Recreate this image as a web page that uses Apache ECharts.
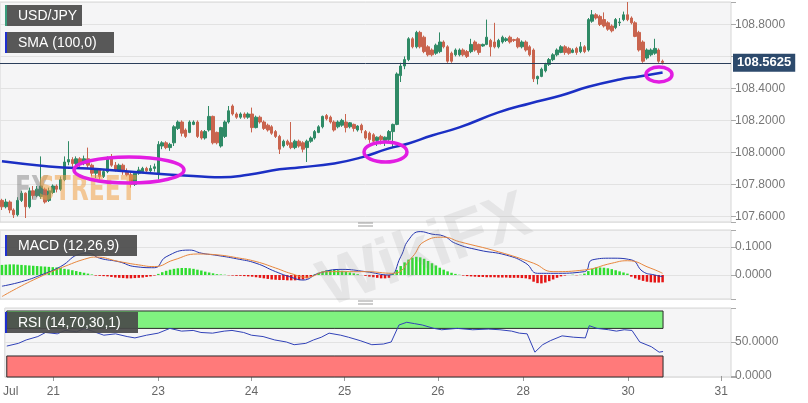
<!DOCTYPE html>
<html>
<head>
<meta charset="utf-8">
<title>USD/JPY hourly</title>
<script src="https://cdn.jsdelivr.net/npm/echarts@6/dist/echarts.min.js"></script>
<style>
  html, body { margin: 0; padding: 0; background: #fff; }
  #chart { width: 808px; height: 403px; }
</style>
</head>
<body>
<div id="chart"></div>
<script>
// hourly candles: [open, close, low, high]
const candles = [
  [107.70,107.66,107.64,107.71],[107.66,107.69,107.65,107.71],[107.69,107.64,107.62,107.70],[107.64,107.61,107.59,107.65],
  [107.61,107.70,107.60,107.72],[107.70,107.745,107.69,107.76],[107.745,107.66,107.59,107.75],[107.66,107.76,107.65,107.78],
  [107.76,107.73,107.71,107.79],[107.73,107.77,107.72,107.79],[107.725,107.79,107.71,107.975],[107.77,107.69,107.68,107.78],
  [107.70,107.76,107.69,107.78],[107.75,107.79,107.74,107.80],[107.79,107.77,107.75,107.80],[107.77,107.83,107.76,107.85],
  [107.83,107.94,107.82,107.975],[107.94,107.955,107.92,108.07],[107.955,107.93,107.91,107.97],[107.93,107.96,107.92,107.975],
  [107.96,107.93,107.91,107.97],[107.93,107.96,107.92,107.98],[107.96,107.92,107.90,108.03],[107.92,107.87,107.85,107.93],
  [107.87,107.89,107.84,107.90],[107.89,107.85,107.83,107.90],[107.85,107.88,107.84,107.89],[107.88,107.96,107.87,107.975],
  [107.96,107.92,107.91,107.99],[107.92,107.89,107.88,107.94],[107.89,107.92,107.88,107.93],[107.92,107.88,107.86,107.93],
  [107.88,107.86,107.85,107.90],[107.86,107.80,107.78,107.88],[107.80,107.87,107.79,107.88],[107.87,107.89,107.86,107.91],
  [107.88,107.90,107.87,107.91],[107.90,107.885,107.87,107.91],[107.885,107.90,107.875,107.92],[107.90,107.91,107.88,107.93],
  [107.87,108.05,107.83,108.07],[108.04,108.06,108.02,108.07],[108.06,108.03,108.02,108.07],[108.03,108.05,108.01,108.06],
  [108.06,108.16,108.04,108.17],[108.15,108.19,108.14,108.20],[108.19,108.12,108.10,108.20],[108.14,108.10,108.09,108.15],
  [108.125,108.19,108.12,108.20],[108.175,108.19,108.17,108.20],[108.19,108.10,108.09,108.20],[108.13,108.09,108.08,108.14],
  [108.09,108.13,108.08,108.14],[108.14,108.225,108.13,108.29],[108.225,108.06,108.05,108.23],[108.125,108.06,108.05,108.13],
  [108.04,108.155,108.03,108.16],[108.10,108.19,108.09,108.20],[108.19,108.26,108.18,108.29],[108.29,108.24,108.23,108.30],
  [108.24,108.22,108.21,108.25],[108.22,108.24,108.21,108.25],[108.24,108.22,108.21,108.25],[108.22,108.24,108.21,108.25],
  [108.24,108.155,108.125,108.28],[108.155,108.22,108.15,108.23],[108.22,108.19,108.18,108.23],[108.19,108.15,108.14,108.20],
  [108.17,108.14,108.13,108.18],[108.16,108.12,108.11,108.17],[108.13,108.10,108.09,108.14],[108.10,108.02,107.99,108.11],
  [108.04,108.07,108.03,108.08],[108.07,108.05,108.04,108.08],[108.06,108.03,108.02,108.19],[108.03,108.07,108.02,108.08],
  [108.07,108.04,108.03,108.08],[108.06,108.02,108.00,108.07],[108.03,108.07,107.94,108.08],[108.07,108.09,108.06,108.10],
  [108.09,108.13,108.08,108.14],[108.125,108.16,108.12,108.17],[108.16,108.225,108.15,108.23],[108.23,108.21,108.20,108.24],
  [108.22,108.19,108.18,108.23],[108.19,108.14,108.13,108.20],[108.16,108.19,108.15,108.20],[108.17,108.20,108.16,108.21],
  [108.19,108.155,108.125,108.24],[108.16,108.185,108.15,108.19],[108.175,108.15,108.13,108.18],[108.14,108.165,108.13,108.17],
  [108.17,108.14,108.12,108.18],[108.13,108.09,108.08,108.14],[108.12,108.08,108.06,108.13],[108.11,108.07,108.05,108.12],
  [108.075,108.095,108.04,108.10],[108.10,108.08,108.05,108.11],[108.075,108.095,108.04,108.10],[108.08,108.13,108.07,108.14],
  [108.13,108.175,108.03,108.18],[108.175,108.49,108.17,108.50],[108.48,108.54,108.44,108.56],[108.54,108.58,108.52,108.60],
  [108.58,108.71,108.57,108.72],[108.71,108.66,108.65,108.72],[108.66,108.75,108.65,108.76],[108.75,108.66,108.65,108.76],
  [108.72,108.63,108.62,108.73],[108.66,108.61,108.60,108.67],[108.64,108.61,108.60,108.65],[108.62,108.67,108.61,108.68],
  [108.63,108.69,108.62,108.75],[108.69,108.66,108.65,108.70],[108.66,108.57,108.56,108.67],[108.62,108.57,108.56,108.63],
  [108.61,108.64,108.60,108.65],[108.61,108.64,108.60,108.65],[108.64,108.61,108.60,108.65],[108.63,108.60,108.59,108.64],
  [108.63,108.675,108.62,108.71],[108.69,108.64,108.63,108.70],[108.675,108.625,108.61,108.68],[108.665,108.675,108.66,108.68],
  [108.675,108.72,108.67,108.83],[108.70,108.66,108.60,108.71],[108.69,108.66,108.65,108.81],[108.66,108.70,108.65,108.71],
  [108.69,108.72,108.68,108.73],[108.70,108.71,108.69,108.72],[108.72,108.69,108.68,108.73],[108.705,108.70,108.69,108.71],
  [108.71,108.66,108.65,108.72],[108.66,108.69,108.65,108.70],[108.69,108.64,108.63,108.70],[108.66,108.61,108.60,108.67],
  [108.64,108.46,108.44,108.65],[108.46,108.475,108.425,108.48],[108.475,108.52,108.47,108.53],[108.51,108.55,108.50,108.56],
  [108.55,108.58,108.54,108.59],[108.58,108.61,108.57,108.62],[108.61,108.64,108.60,108.65],[108.625,108.66,108.62,108.67],
  [108.66,108.625,108.61,108.67],[108.65,108.62,108.61,108.66],[108.625,108.64,108.62,108.65],[108.65,108.625,108.61,108.66],
  [108.63,108.66,108.62,108.69],[108.66,108.63,108.62,108.67],[108.64,108.83,108.63,108.84],[108.82,108.86,108.81,108.89],
  [108.86,108.84,108.83,108.87],[108.85,108.80,108.79,108.86],[108.83,108.79,108.78,108.875],[108.81,108.77,108.76,108.82],
  [108.79,108.76,108.75,108.80],[108.78,108.83,108.77,108.84],[108.81,108.815,108.79,108.84],[108.83,108.86,108.82,108.88],
  [108.86,108.83,108.82,108.94],[108.84,108.81,108.80,108.85],[108.81,108.725,108.72,108.82],[108.75,108.64,108.63,108.76],
  [108.69,108.57,108.56,108.70],[108.59,108.64,108.58,108.65],[108.61,108.64,108.60,108.65],[108.62,108.65,108.61,108.71],
  [108.64,108.57,108.56,108.65],[108.57,108.5625,108.55,108.58]
];
const lastPrice = 108.5625;

// SMA(100) read at a few candles
const smaIdx = [0,12,25,38,51,56,63,71,76,85,92,99,104,110,117,127,135,143,150,158,163,169];
const smaVal = [107.944,107.9125,107.894,107.869,107.85,107.844,107.86,107.894,107.906,107.931,107.969,
  108.025,108.056,108.106,108.156,108.25,108.306,108.356,108.41,108.456,108.475,108.50];

// MACD (12,26,9)
const macdIdx = [0,5,10,15,20,22,25,30,34,39,42,48,51,55,60,65,70,74,77,81,87,93,99,102,104,107,110,113,116,122,
  129,134,137,141,149,151,156,161,164,167,169];
const macdVal = [-0.04,-0.024,0.0,0.03,0.075,0.078,0.06,0.047,0.03,0.026,0.065,0.089,0.078,0.07,0.058,0.042,0.012,
  -0.008,-0.018,0.006,0.02,0.012,0.0,0.065,0.125,0.155,0.146,0.139,0.113,0.089,0.071,0.042,0.006,0.006,0.012,0.054,
  0.06,0.054,0.012,0.0,-0.006];
const signalIdx = [0,8,17,22,24,30,35,39,44,50,55,60,65,70,74,78,83,93,100,105,108,113,117,127,136,141,149,156,160,166,169];
const signalVal = [-0.077,-0.018,0.036,0.06,0.064,0.048,0.036,0.03,0.054,0.075,0.072,0.062,0.048,0.025,0.005,-0.008,
  0.012,0.012,0.006,0.065,0.119,0.135,0.119,0.083,0.042,0.012,0.018,0.042,0.051,0.024,0.006];
const histogram = [
  0.036,0.037,0.038,0.038,0.037,0.036,0.035,0.034, 0.033,0.032,0.031,0.030,0.029,0.028,0.027,0.025,
  0.022,0.020,0.017,0.014,0.011,0.008,0.005,0.002, -0.002,-0.003,-0.004,-0.005,-0.007,-0.009,-0.010,-0.011,
  -0.012,-0.012,-0.011,-0.010,-0.009,-0.007,-0.005,-0.002, 0.004,0.010,0.015,0.019,0.022,0.024,0.025,0.025,
  0.024,0.022,0.019,0.016,0.012,0.009,0.006,0.003, 0.002,0.001,-0.001,-0.002,-0.003,-0.003,-0.004,-0.005,
  -0.006,-0.008,-0.010,-0.012,-0.014,-0.016,-0.017,-0.018, -0.018,-0.019,-0.019,-0.019,-0.018,-0.016,-0.012,-0.006,
  0.002,0.008,0.013,0.017,0.018,0.018,0.017,0.015, 0.012,0.009,0.006,0.003,0.000,-0.003,-0.006,-0.008,
  -0.010,-0.012,-0.012,-0.010,0.004, 0.018,0.032,0.045,0.055,0.062,0.065,0.063,0.058,
  0.050,0.042,0.034,0.026,0.019,0.013,0.008,0.004, 0.001,-0.002,-0.004,-0.005,-0.006,-0.007,-0.007,-0.008,
  -0.008,-0.008,-0.009,-0.009,-0.009,-0.010,-0.010,-0.010,
  -0.011,-0.012,-0.015,-0.024,-0.029,-0.030,-0.027,-0.022,-0.016,-0.010,-0.005,
  -0.002,0.000,0.001,-0.001,0.001,
  0.005,0.014,0.022,0.027,0.027,0.026,0.024,0.021,0.017,0.013,0.009,0.005,
  -0.006,-0.012,-0.017,-0.021,-0.024,-0.026,-0.027,-0.027,-0.026
];

// RSI (14)
const rsiIdx = [0,3,5,8,10,13,15,18,20,23,25,28,31,33,36,39,42,45,48,50,53,56,58,61,63,66,69,72,74,77,79,81,83,86,88,
  91,94,97,99,101,103,105,107,110,112,116,120,124,127,130,132,134,136,138,140,143,146,149,150,152,155,157,159,161,163,
  166,168,169];
const rsiVal = [44,48,53,58,64,62,67,65,70,64,60,62,58,56,60,63,70,66,67,64,63,66,67,64,60,58,53,50,46,48,53,57,63,60,57,
  52,46,47,50,75,79,77,75,70,68,70,68,69,68,66,63,62,35,46,52,59,57,56,74,70,68,66,68,67,50,43,35,36];

// x axis: one slot per hour, day labels at the first hour of each day
const slotCount = 187;
const dayLabels = ['Jul', '21', '23', '24', '25', '26', '28', '30', '31'];
const daySlots = [1, 12, 39, 63, 87, 111, 133, 160, 184];

const slots = [];
for (let i = 0; i < slotCount; i++) slots.push(String(i));
const dayAt = {};
daySlots.forEach((s, k) => { dayAt[s] = dayLabels[k]; });

function sparse(idx, vals) {
  const out = candles.map(() => null);
  idx.forEach((i, k) => { out[i] = vals[k]; });
  return out;
}
const onStep = (v, step) => Math.abs(v / step - Math.round(v / step)) < 1e-6;

const FONT = '"Liberation Sans", Arial, sans-serif';
const bull = '#2f8a66';
const bear = '#c9644e';

const panel = { show: true, backgroundColor: '#f5f5f6', borderColor: '#d6d6d6', borderWidth: 1, left: -1, right: 77 };
const yBase = {
  type: 'value', position: 'right',
  axisLine: { show: false },
  axisTick: { show: true, length: 5, lineStyle: { color: '#aaa' } },
  axisLabel: { color: '#777', fontSize: 12, margin: 4, fontFamily: FONT },
  splitLine: { lineStyle: { color: '#e2e2e2' } }
};
const xBase = {
  type: 'category', data: slots, boundaryGap: true,
  axisLine: { show: false }, axisTick: { show: false }, axisLabel: { show: false }, splitLine: { show: false }
};

// overlay pieces sit above the series
const TOP = 200;
function tag(x, y, w, text, strip) {
  return {
    type: 'group', x: x, y: y,
    children: [
      { type: 'rect', z: TOP, shape: { x: 0, y: 0, width: w, height: 21 }, style: { fill: 'rgba(74,74,74,0.92)' } },
      { type: 'rect', z: TOP + 1, shape: { x: 0, y: 0, width: 2, height: 21 }, style: { fill: strip } },
      { type: 'text', z: TOP + 2, x: 13, y: 11, style: { text: text, fill: '#fff', font: '14px ' + FONT, verticalAlign: 'middle' } }
    ]
  };
}
function ring(cx, cy, rx, ry) {
  return { type: 'ellipse', z: TOP, shape: { cx, cy, rx, ry }, style: { fill: 'none', stroke: '#e21de2', lineWidth: 3.5 } };
}
function handle(y) {
  return {
    type: 'group', x: 358, y: y,
    children: [0, 3].map(d => ({ type: 'line', z: TOP, shape: { x1: 0, y1: d, x2: 15, y2: d }, style: { stroke: '#999', lineWidth: 1 } }))
  };
}

const chart = echarts.init(document.getElementById('chart'), null, { renderer: 'canvas' });
chart.setOption({
  animation: false,
  backgroundColor: '#fff',
  textStyle: { fontFamily: FONT },
  grid: [
    Object.assign({ top: 2, height: 220 }, panel),
    Object.assign({ top: 230, height: 69 }, panel),
    Object.assign({ top: 308, height: 69 }, panel)
  ],
  xAxis: [
    Object.assign({ gridIndex: 0 }, xBase),
    Object.assign({ gridIndex: 1 }, xBase),
    Object.assign({}, xBase, {
      gridIndex: 2,
      axisTick: { show: true, alignWithLabel: true, length: 5, interval: i => (i in dayAt) && i !== 1, lineStyle: { color: '#999' } },
      axisLabel: { show: true, color: '#666', fontSize: 12, margin: 9, fontFamily: FONT,
        interval: i => i in dayAt, formatter: (v, i) => dayAt[i] || '' }
    })
  ],
  yAxis: [
    Object.assign({}, yBase, { gridIndex: 0, min: 107.565, max: 108.94, splitNumber: 7,
      axisLabel: Object.assign({}, yBase.axisLabel, {
        formatter: v => (onStep(v, 0.2) && Math.abs(v - 108.6) > 1e-6) ? v.toFixed(4) : '' }) }),
    Object.assign({}, yBase, { gridIndex: 1, min: -0.0857, max: 0.1607, splitNumber: 2,
      axisLabel: Object.assign({}, yBase.axisLabel, {
        formatter: v => onStep(v, 0.1) ? (Math.round(v * 10) / 10 + 0).toFixed(4) : '' }) }),
    Object.assign({}, yBase, { gridIndex: 2, min: -1.5, max: 100, splitNumber: 2,
      axisLabel: Object.assign({}, yBase.axisLabel, {
        formatter: v => (onStep(v, 50) && v < 99) ? (Math.round(v) + 0).toFixed(4) : '' }) })
  ],
  series: [
    {
      name: 'USD/JPY', type: 'candlestick', xAxisIndex: 0, yAxisIndex: 0,
      data: candles, barWidth: 3,
      itemStyle: { color: bull, color0: bear, borderColor: bull, borderColor0: bear, borderWidth: 1 },
      markLine: {
        silent: true, symbol: ['none', 'none'],
        lineStyle: { color: '#2b3e5b', type: 'solid', width: 1 },
        label: { position: 'end', distance: 2, formatter: lastPrice.toFixed(4), color: '#fff', fontWeight: 'bold',
          fontSize: 13, fontFamily: FONT, backgroundColor: '#2d4a6c', padding: [3, 4, 2, 4] },
        data: [{ yAxis: lastPrice }]
      }
    },
    {
      name: 'SMA (100,0)', type: 'line', xAxisIndex: 0, yAxisIndex: 0,
      data: sparse(smaIdx, smaVal), connectNulls: true, smooth: true, showSymbol: false, symbol: 'none',
      lineStyle: { color: '#1b2fc4', width: 2.5 }, z: 3
    },
    {
      name: 'Histogram', type: 'bar', xAxisIndex: 1, yAxisIndex: 1, barWidth: 2.5,
      data: histogram.map(v => ({ value: v, itemStyle: { color: v >= 0 ? '#2fdc2f' : '#e51414' } }))
    },
    {
      name: 'MACD', type: 'line', xAxisIndex: 1, yAxisIndex: 1,
      data: sparse(macdIdx, macdVal), connectNulls: true, smooth: true, symbol: 'none',
      lineStyle: { color: '#2536b0', width: 1 }
    },
    {
      name: 'Signal', type: 'line', xAxisIndex: 1, yAxisIndex: 1,
      data: sparse(signalIdx, signalVal), connectNulls: true, smooth: true, symbol: 'none',
      lineStyle: { color: '#e8863c', width: 1 }
    },
    {
      name: 'RSI', type: 'line', xAxisIndex: 2, yAxisIndex: 2,
      data: sparse(rsiIdx, rsiVal), connectNulls: true, symbol: 'none',
      lineStyle: { color: '#3142b8', width: 1 },
      markArea: {
        silent: true,
        data: [
          [{ xAxis: 0, yAxis: 70, itemStyle: { color: '#80f280', borderColor: '#2a2a2a', borderWidth: 1 } }, { xAxis: 169, yAxis: 95.6 }],
          [{ xAxis: 0, yAxis: -1.5, itemStyle: { color: '#ff7a7a', borderColor: '#2a2a2a', borderWidth: 1 } }, { xAxis: 169, yAxis: 29.4 }]
        ]
      }
    }
  ],
  graphic: [
    { type: 'text', x: 15, y: 174, z: TOP - 10, scaleY: 1.3,
      style: { text: 'FX', fill: 'rgba(120,120,120,0.45)', font: 'bold 26px "Liberation Sans Narrow", "DejaVu Sans Condensed", sans-serif' } },
    { type: 'text', x: 38, y: 174, z: TOP - 10, scaleY: 1.3,
      style: { text: 'STREET', fill: 'rgba(240,160,70,0.55)', font: 'bold 26px "Liberation Sans Narrow", "DejaVu Sans Condensed", sans-serif' } },
    { type: 'text', x: 425, y: 252, z: TOP - 10, rotation: 0.35,
      style: { text: 'WikiFX', fill: 'rgba(150,150,150,0.16)', font: 'bold 66px ' + FONT, align: 'center', verticalAlign: 'middle' } },
    tag(5, 5, 77, 'USD/JPY', '#3a9c7c'),
    tag(5, 32, 109, 'SMA (100,0)', '#1f2fd0'),
    tag(5, 235, 132, 'MACD (12,26,9)', '#1f2fd0'),
    tag(5, 312, 133, 'RSI (14,70,30,1)', '#1f2fd0'),
    ring(129, 170, 55, 13),
    ring(385.5, 152, 21.5, 10),
    ring(659, 74.5, 13, 7.5),
    handle(223),
    handle(301)
  ]
});
</script>
</body>
</html>
